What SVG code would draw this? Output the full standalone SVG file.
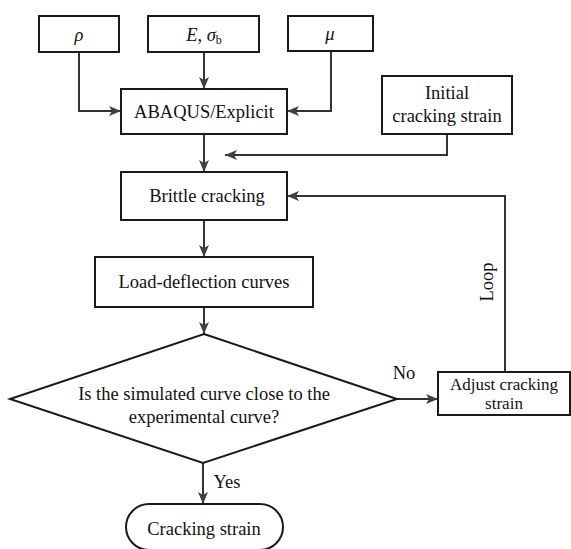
<svg xmlns="http://www.w3.org/2000/svg" width="571" height="549" viewBox="0 0 571 549">
<style>
.box{fill:#fff;stroke:#1a1a1a;stroke-width:2}
.ln{fill:none;stroke:#333;stroke-width:2}
text{font-family:"Liberation Serif","Times New Roman",serif;font-size:18.5px;fill:#111;text-anchor:middle}
.it{font-style:italic}
.sm{font-size:17px}
</style>
<defs>
<marker id="ah" viewBox="0 0 12 10" refX="12" refY="5" markerWidth="12" markerHeight="10" markerUnits="userSpaceOnUse" orient="auto">
<path d="M0,0 L12,5 L0,10 L3,5 Z" fill="#404040"/>
</marker>
</defs>
<rect width="571" height="549" fill="#fff"/>
<g id="connectors">
<path class="ln" d="M79,52 V111 H121" marker-end="url(#ah)"/>
<path class="ln" d="M204,52 V89" marker-end="url(#ah)"/>
<path class="ln" d="M331,51 V111 H287" marker-end="url(#ah)"/>
<path class="ln" d="M447,134 V155 H225" marker-end="url(#ah)"/>
<path class="ln" d="M204,134 V172" marker-end="url(#ah)"/>
<path class="ln" d="M204,220 V257" marker-end="url(#ah)"/>
<path class="ln" d="M204,307 V334" marker-end="url(#ah)"/>
<path class="ln" d="M397,399 H438" marker-end="url(#ah)"/>
<path class="ln" d="M505,372 V196 H287" marker-end="url(#ah)"/>
<path class="ln" d="M203,463 V504" marker-end="url(#ah)"/>
<text x="404" y="379">No</text>
<text x="227" y="488">Yes</text>
<text transform="translate(493,282) rotate(-90)">Loop</text>
</g>
<g id="rho"><rect class="box" x="39" y="16" width="80" height="36"/><text class="it" x="79" y="41">ρ</text></g>
<g id="E"><rect class="box" x="148" y="16" width="111" height="36"/><text x="204" y="41"><tspan class="it">E</tspan>, <tspan class="it">σ</tspan><tspan font-size="12" dy="3">b</tspan></text></g>
<g id="mu"><rect class="box" x="288" y="16" width="85" height="35"/><text class="it" x="330" y="40">μ</text></g>
<g id="abaqus"><rect class="box" x="121" y="89" width="166" height="45"/><text x="204" y="118">ABAQUS/Explicit</text></g>
<g id="initial"><rect class="box" x="382" y="76" width="130" height="58"/><text x="447" y="99">Initial</text><text x="447" y="122">cracking strain</text></g>
<g id="brittle"><rect class="box" x="121" y="172" width="166" height="48"/><text x="207" y="202">Brittle cracking</text></g>
<g id="load"><rect class="box" x="95" y="257" width="218" height="50"/><text x="204" y="288">Load-deflection curves</text></g>
<g id="decision"><polygon class="box" points="204,334 397,399 203,463 10,399"/><text x="204" y="400">Is the simulated curve close to the</text><text x="204" y="423">experimental curve?</text></g>
<g id="adjust"><rect class="box" x="438" y="372" width="132" height="43"/><text class="sm" x="504" y="390">Adjust cracking</text><text class="sm" x="504" y="409">strain</text></g>
<g id="result"><rect class="box" x="126" y="504" width="157" height="46" rx="23"/><text x="204" y="535">Cracking strain</text></g>
</svg>
